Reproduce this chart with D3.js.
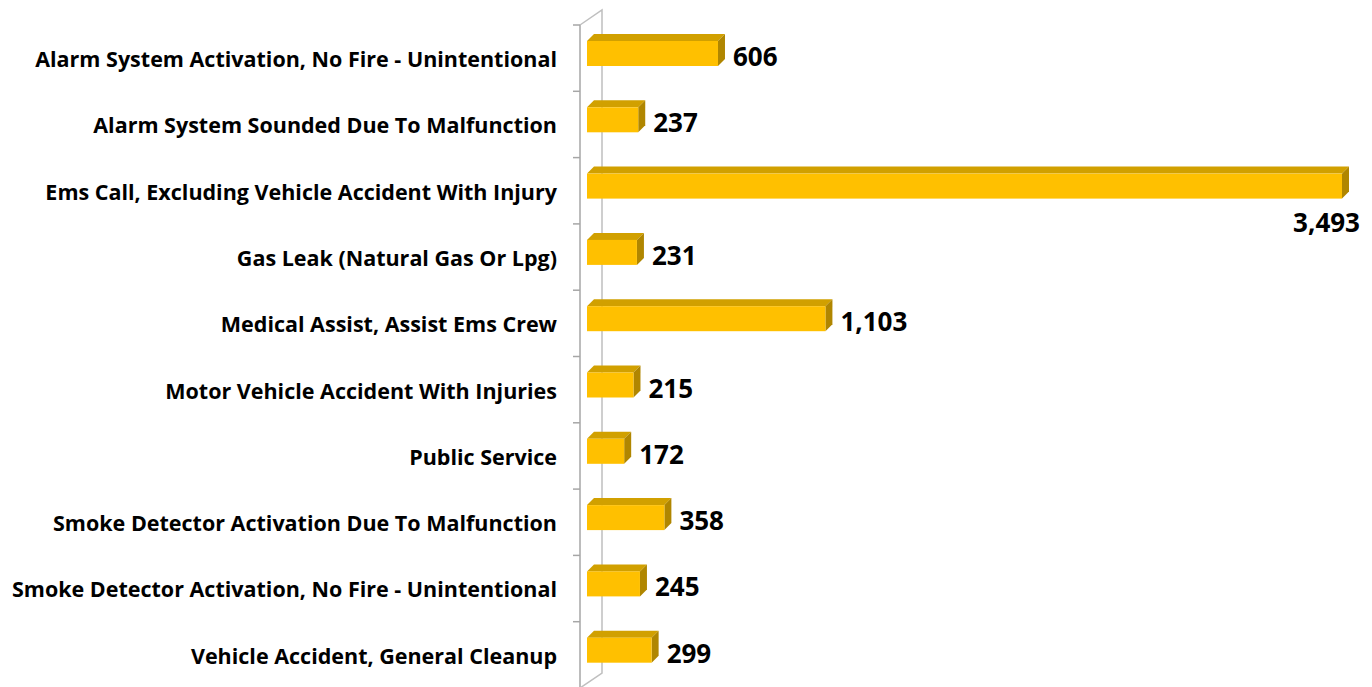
<!DOCTYPE html>
<html><head><meta charset="utf-8">
<script src="https://cdn.jsdelivr.net/npm/d3@7"></script>
<style>html,body{margin:0;padding:0;background:#fff}svg{display:block}</style>
</head><body>
<script>
const categories = [
  "Alarm System Activation, No Fire - Unintentional",
  "Alarm System Sounded Due To Malfunction",
  "Ems Call, Excluding Vehicle Accident With Injury",
  "Gas Leak (Natural Gas Or Lpg)",
  "Medical Assist, Assist Ems Crew",
  "Motor Vehicle Accident With Injuries",
  "Public Service",
  "Smoke Detector Activation Due To Malfunction",
  "Smoke Detector Activation, No Fire - Unintentional",
  "Vehicle Accident, General Cleanup"
];
const values = [606, 237, 3493, 231, 1103, 215, 172, 358, 245, 299];

const W = 1372, H = 687;
const svg = d3.select("body").append("svg").attr("width", W).attr("height", H);

const x = d3.scaleLinear().domain([0, 3493]).range([587, 1342]);
const y = d3.scaleBand().domain(categories).range([25, 688]).paddingInner(0).paddingOuter(0);
const frontTop = 16, frontH = 25;
const dx = 7, dy = 7;

// axis walls
const ax = 580, bx = 602, ddy = 15;
const axisCol = "#a6a6a6";
const g = svg.append("g");
g.append("path").attr("d", `M${ax},${y.range()[0]}L${ax},${y.range()[1]}`).attr("stroke", axisCol).attr("stroke-width", 1.5).attr("fill", "none");
g.append("path").attr("d", `M${ax},${y.range()[0]}L${bx},${y.range()[0]-ddy}L${bx},${y.range()[1]-ddy}L${ax},${y.range()[1]}`)
  .attr("stroke", "#bfbfbf").attr("stroke-width", 1.5).attr("fill", "none");
const tickYs = categories.map(c => y(c));
g.selectAll("line.tick").data(tickYs).join("line")
  .attr("x1", ax - 7).attr("x2", ax).attr("y1", d => d).attr("y2", d => d)
  .attr("stroke", axisCol).attr("stroke-width", 1.5);

// bars
const bars = svg.append("g").selectAll("g").data(categories.map((c, i) => ({c, v: values[i]}))).join("g");
bars.each(function(d) {
  const gg = d3.select(this);
  const x0 = x(0), x1 = x(d.v), t = y(d.c) + frontTop, b = t + frontH;
  gg.append("path").attr("d", `M${x0},${t}L${x0+dx},${t-dy}L${x1+dx},${t-dy}L${x1},${t}Z`).attr("fill", "#d1a000");
  gg.append("path").attr("d", `M${x1},${t}L${x1+dx},${t-dy}L${x1+dx},${b-dy}L${x1},${b}Z`).attr("fill", "#b08600");
  gg.append("rect").attr("x", x0).attr("y", t).attr("width", x1 - x0).attr("height", frontH).attr("fill", "#ffc000");
});

const font = "'Open Sans', Lato, sans-serif";
const fmt = d3.format(",");
const outside = d => x(d.v) + dx + 8 > 1260;
bars.append("text")
  .attr("x", d => outside(d) ? 1360 : x(d.v) + dx + 8)
  .attr("y", d => y(d.c) + frontTop + frontH + (outside(d) ? 33 : 0))
  .attr("text-anchor", d => outside(d) ? "end" : "start")
  .attr("font-family", font).attr("font-weight", "bold")
  .attr("font-size", 26).attr("fill", "#000").text(d => fmt(d.v));

svg.append("g").selectAll("text").data(categories).join("text")
  .attr("x", 557).attr("y", d => y(d) + frontTop + frontH + 1)
  .attr("text-anchor", "end")
  .attr("font-family", font).attr("font-weight", "bold")
  .attr("font-size", 21.5).attr("fill", "#000").text(d => d);
</script>
</body></html>
